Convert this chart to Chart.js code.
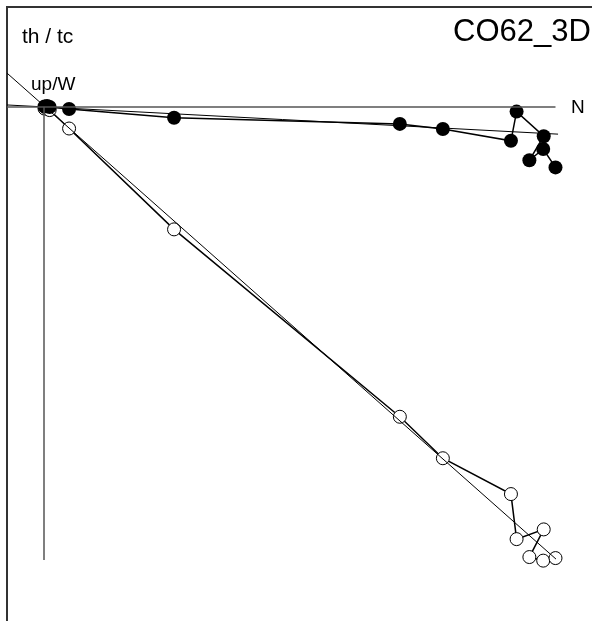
<!DOCTYPE html>
<html>
<head>
<meta charset="utf-8">
<script src="https://cdn.jsdelivr.net/npm/chart.js@4"></script>
<style>
body{margin:0;background:#fff;font-family:"Liberation Sans",Arial,sans-serif;}
#wrap{position:relative;width:592px;height:621px;overflow:hidden;}
#frame{position:absolute;left:6px;top:6px;width:700px;height:700px;border:2px solid #333;box-sizing:border-box;}
canvas{position:absolute;left:0;top:0;}
.lbl{position:absolute;color:#000;white-space:nowrap;line-height:1;}
</style>
</head>
<body>
<div id="wrap">
<div id="frame"></div>
<canvas id="zij" width="592" height="621"></canvas>
<div class="lbl" style="left:22px;top:25px;font-size:21px;">th / tc</div>
<div class="lbl" style="left:453px;top:15px;font-size:31px;">CO62_3D</div>
<div class="lbl" style="left:31px;top:74px;font-size:19px;">up/W</div>
<div class="lbl" style="left:571px;top:97px;font-size:19px;">N</div>
</div>
<script>

// demag steps, N component (shared by both projections)
const stepN = [0.1, 0.6, 1.1, 4.9, 25.4, 69.5, 77.9, 91.2, 92.3, 97.6, 94.8, 97.5, 99.9];
// horizontal projection (filled)
const horizY = [0.1, 0.2, 0, -0.4, -2.1, -3.3, -4.3, -6.6, -0.9, -5.7, -10.4, -8.2, -11.8];
// vertical projection (open)
const vertY = [-0.3, -0.3, -0.6, -4.2, -23.9, -60.5, -68.6, -75.6, -84.4, -82.5, -87.9, -88.6, -88.1];

// fitted directions
const fitHX = [-7.2, 100.4];
const fitHY = [0.4, -5.3];
const fitVX = [-7.2, 100.0];
const fitVY = [6.6, -88.3];

// axes
const axisNX = [-7.2, 99.9];
const axisNY = [0, 0];
const axisUpX = [0, 0];
const axisUpY = [0, -88.5];

function pts(xs, ys){
return xs.map((x,i)=>({x:x, y:ys[i]}));
}

new Chart(document.getElementById("zij"),{

type:"scatter",

data:{
datasets:[
{data:pts(axisNX,axisNY), showLine:true, borderColor:"#555", borderWidth:1.5, pointRadius:0},
{data:pts(axisUpX,axisUpY), showLine:true, borderColor:"#555", borderWidth:1.5, pointRadius:0},
{data:pts(fitHX,fitHY), showLine:true, borderColor:"#000", borderWidth:1, pointRadius:0},
{data:pts(fitVX,fitVY), showLine:true, borderColor:"#000", borderWidth:1, pointRadius:0},
{data:pts(stepN,horizY), showLine:true, borderColor:"#000", borderWidth:1.5,
 pointRadius:7, pointBackgroundColor:"#000", pointBorderColor:"#000", pointBorderWidth:0},
{data:pts(stepN,vertY), showLine:true, borderColor:"#000", borderWidth:1.5,
 pointRadius:6.5, pointBackgroundColor:"#fff", pointBorderColor:"#000", pointBorderWidth:1}
]
},

options:{
responsive:false,
animation:false,
layout:{padding:0, autoPadding:false},
plugins:{legend:{display:false}, tooltip:{enabled:false}},
scales:{
x:{type:"linear", display:false, min:-8.594, max:107.03},
y:{type:"linear", display:false, min:-100.39, max:20.9}
}
}

});

</script>
</body>
</html>
